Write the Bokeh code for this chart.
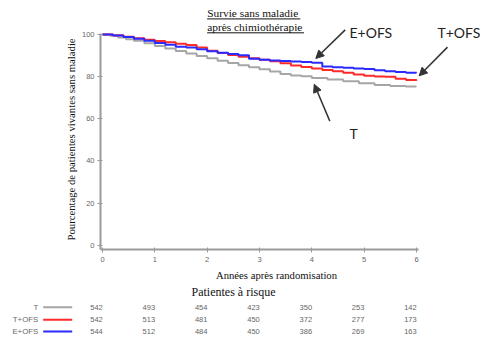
from bokeh.plotting import figure
from bokeh.models import Label, Arrow, NormalHead, Range1d, FixedTicker
from bokeh.embed import file_html
from bokeh.resources import INLINE
import math

# ---- data ----
t_T = [0, 0.15, 0.3, 0.45, 0.6, 0.8, 1.0, 1.2, 1.4, 1.6, 1.8, 2.0, 2.2, 2.4, 2.6, 2.8,
       3.0, 3.2, 3.4, 3.6, 3.8, 4.0, 4.3, 4.6, 4.9, 5.2, 5.5, 5.8, 6.0]
s_T = [100, 99.4, 98.6, 97.8, 97.0, 95.8, 94.6, 93.3, 92.2, 91.0, 89.8, 88.7, 87.6, 86.5, 85.4, 84.5,
       83.5, 82.4, 81.3, 80.6, 80.2, 79.4, 78.6, 77.8, 76.9, 76.0, 75.6, 75.3, 75.3]

t_TOFS = [0, 0.2, 0.4, 0.6, 0.8, 1.0, 1.2, 1.4, 1.6, 1.8, 2.0, 2.2, 2.4, 2.6, 2.8, 3.0,
          3.2, 3.4, 3.6, 3.8, 4.0, 4.2, 4.4, 4.6, 4.8, 5.0, 5.2, 5.4, 5.6, 5.8, 6.0]
s_TOFS = [100, 99.6, 98.9, 98.2, 97.5, 96.9, 96.3, 95.6, 95.0, 93.8, 92.3, 91.2, 90.3, 89.4, 88.7, 88.0,
          87.3, 86.3, 85.3, 84.6, 83.9, 83.2, 82.6, 81.8, 81.0, 80.4, 80.1, 79.9, 79.0, 78.4, 78.1]

t_EOFS = [0, 0.2, 0.4, 0.6, 0.8, 1.0, 1.2, 1.4, 1.6, 1.8, 2.0, 2.2, 2.4, 2.6, 2.8, 3.0,
          3.2, 3.4, 3.6, 3.8, 4.0, 4.2, 4.4, 4.6, 4.8, 5.0, 5.2, 5.4, 5.6, 5.8, 6.0]
s_EOFS = [100, 99.5, 98.8, 98.0, 97.0, 96.0, 95.1, 94.2, 93.8, 93.0, 92.0, 91.3, 90.7, 90.1, 88.5, 88.0,
          87.7, 87.4, 87.2, 86.9, 86.6, 84.8, 84.5, 84.2, 83.9, 83.6, 83.0, 82.6, 82.2, 81.9, 81.8]

groups = ["T", "T+OFS", "E+OFS"]
risk_years = [0, 1, 2, 3, 4, 5, 6]
risk_T = [542, 493, 454, 423, 350, 253, 142]
risk_TOFS = [542, 513, 481, 450, 372, 277, 173]
risk_EOFS = [544, 512, 484, 450, 386, 269, 163]

x_ticks = [0, 1, 2, 3, 4, 5, 6]
y_ticks = [0, 20, 40, 60, 80, 100]

title_lines = ["Survie  sans maladie", "après chimiothérapie"]
x_title = "Années après randomisation"
y_title = "Pourcentage de patientes vivantes sans maladie"
risk_title = "Patientes à risque"

# ---- style ----
C_T, C_TOFS, C_EOFS = "#a6a6a6", "#ff2a2a", "#2b2bff"
AX = "#9a9a9a"
TXT = "#666666"
SERIF = "Liberation Serif"

# the frame spans the whole canvas; axes are placed inside it with fixed_location
p = figure(width=484, height=341, output_backend="svg", toolbar_location=None,
           x_range=Range1d(-1.949, 7.300), y_range=Range1d(-45.70, 116.14),
           min_border=0)
p.outline_line_color = None
p.xgrid.visible = False
p.ygrid.visible = False
p.background_fill_color = "white"
p.border_fill_color = "white"

for ax, ticks in ((p.xaxis[0], x_ticks), (p.yaxis[0], y_ticks)):
    ax.ticker = FixedTicker(ticks=ticks)
    ax.axis_line_color = AX
    ax.axis_line_width = 2
    ax.major_tick_line_color = AX
    ax.major_tick_out = 3
    ax.major_tick_in = 2
    ax.minor_tick_line_color = None
    ax.major_label_text_font = "Liberation Sans"
    ax.major_label_text_font_size = "7.5px"
    ax.major_label_text_color = TXT
    ax.major_label_standoff = 3
p.xaxis[0].fixed_location = -1.8
p.xaxis[0].bounds = (-0.04, 6.03)
p.xaxis[0].major_label_standoff = 5
p.yaxis[0].fixed_location = -0.038
p.yaxis[0].bounds = (-1.9, 100.6)

p.step(t_T, s_T, mode="after", line_color=C_T, line_width=2)
p.step(t_TOFS, s_TOFS, mode="after", line_color=C_TOFS, line_width=2)
p.step(t_EOFS, s_EOFS, mode="after", line_color=C_EOFS, line_width=2)

def lab(x, y, text, **kw):
    p.add_layout(Label(x=x, y=y, text=text, **kw))

# title (underlined)
lab(2.0, 110.2, title_lines[0], text_font=SERIF, text_font_size="11.4px",
    text_align="left", text_baseline="middle", text_color="#111111")
lab(2.0, 103.5, title_lines[1], text_font=SERIF, text_font_size="11.4px",
    text_align="left", text_baseline="middle", text_color="#111111")
p.add_layout(Arrow(x_start=2.0, y_start=107.4, x_end=3.78, y_end=107.4, end=None,
                   line_color="#111111", line_width=1))
p.add_layout(Arrow(x_start=2.0, y_start=100.8, x_end=3.85, y_end=100.8, end=None,
                   line_color="#111111", line_width=1))

# axis titles
lab(-0.611, 50.2, y_title, angle=math.pi / 2, text_font=SERIF, text_font_size="10.7px",
    text_align="center", text_baseline="middle", text_color="#111111")
lab(3.325, -14.2, x_title, text_font=SERIF, text_font_size="10.7px",
    text_align="center", text_baseline="middle", text_color="#111111")

# annotations with arrows
ANN = "#333333"
lab(4.72, 100.9, "E+OFS", text_font="Lato", text_font_size="14px",
    text_align="left", text_baseline="middle", text_color="#222222")
lab(6.40, 100.9, "T+OFS", text_font="Lato", text_font_size="14px",
    text_align="left", text_baseline="middle", text_color="#222222")
lab(4.72, 53.0, "T", text_font="Lato", text_font_size="14px",
    text_align="left", text_baseline="middle", text_color="#222222")
for xs, ys, xe, ye in ((4.638, 102.2, 4.076, 88.6), (6.593, 94.0, 6.052, 80.4), (4.344, 58.9, 4.046, 76.4)):
    p.add_layout(Arrow(x_start=xs, y_start=ys, x_end=xe, y_end=ye, line_color=ANN, line_width=1.5,
                       end=NormalHead(size=8, fill_color=ANN, line_color=ANN)))

# risk table
lab(2.503, -22.4, risk_title, text_font=SERIF, text_font_size="12px",
    text_align="center", text_baseline="middle", text_color="#111111")
row_y = [-29.4, -35.4, -40.9]
colors = [C_T, C_TOFS, C_EOFS]
for g, yy, c, vals in zip(groups, row_y, colors, (risk_T, risk_TOFS, risk_EOFS)):
    lab(-1.229, yy, g, text_font="Liberation Sans", text_font_size="7.8px",
        text_align="right", text_baseline="middle", text_color=TXT)
    p.add_layout(Arrow(x_start=-1.133, y_start=yy, x_end=-0.579, y_end=yy, end=None,
                       line_color=c, line_width=2))
    for yr, v in zip(risk_years, vals):
        lab(yr - 0.115, yy, str(v), text_font="Liberation Sans", text_font_size="7.5px",
            text_align="center", text_baseline="middle", text_color=TXT)

open("out.html", "w").write(file_html(p, INLINE))
